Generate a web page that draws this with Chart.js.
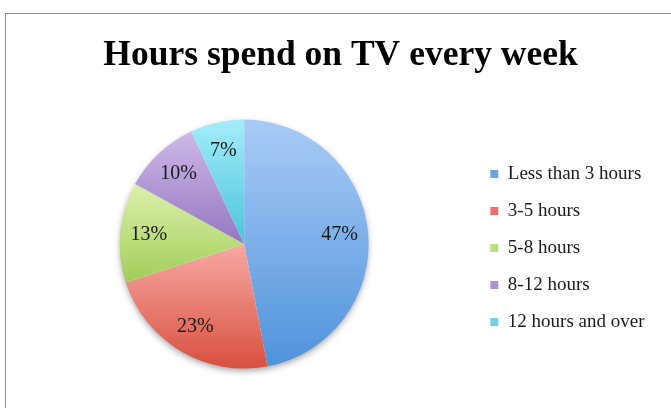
<!DOCTYPE html>
<html>
<head>
<meta charset="utf-8">
<script src="https://cdn.jsdelivr.net/npm/chart.js@4.4.0/dist/chart.umd.min.js"></script>
<style>
  body { margin: 0; background: #fff; }
  #frame {
    position: absolute; left: 5px; top: 13px; width: 700px; height: 420px;
    border-left: 1px solid #8e8e8e; border-top: 1px solid #8e8e8e;
  }
  #tvChart { position: absolute; left: 0; top: 0; }
</style>
</head>
<body>
<div id="frame"></div>
<canvas id="tvChart" width="671" height="408"></canvas>
<script>
const categories = ["Less than 3 hours", "3-5 hours", "5-8 hours", "8-12 hours", "12 hours and over"];
const shares = [47, 23, 13, 10, 7];
// light (top) and dark (bottom) shade of each slice
const topColors = ["#a9cbf7", "#f7a9a5", "#dbf1aa", "#cdbae7", "#a3edf9"];
const bottomColors = ["#4f93da", "#d9503f", "#a2cd5a", "#9576c1", "#4bc3dc"];
const legendColors = ["#6aa5e6", "#e8716a", "#bddd81", "#ad93d2", "#6fd3e8"];

function sliceGradient(context) {
  const chart = context.chart;
  const area = chart.chartArea;
  const i = context.dataIndex;
  if (!area || i === undefined) return topColors[i || 0];
  const cx = (area.left + area.right) / 2;
  const cy = (area.top + area.bottom) / 2;
  const r = Math.min(area.width, area.height) / 2;
  const total = shares.reduce((a, b) => a + b, 0);
  let before = 0;
  for (let k = 0; k < i; k++) before += shares[k];
  const a0 = -Math.PI / 2 + before / total * Math.PI * 2;
  const a1 = a0 + shares[i] / total * Math.PI * 2;
  let ys = [cy, cy + r * Math.sin(a0), cy + r * Math.sin(a1)];
  if (a0 <= -Math.PI / 2 + 1e-6 || a1 >= Math.PI * 1.5 - 1e-6) ys.push(cy - r);
  if (a0 < Math.PI / 2 && a1 > Math.PI / 2) ys.push(cy + r);
  const y0 = Math.min(...ys), y1 = Math.max(...ys);
  const g = chart.ctx.createLinearGradient(0, y0, 0, y1);
  g.addColorStop(0, topColors[i]);
  g.addColorStop(1, bottomColors[i]);
  return g;
}

// empty box right of the legend, so the title centres over a wider span than the pie
// (display:false keeps it out of the legend's max-width share)
const rightGap = {
  id: "rightGap",
  beforeInit(chart) {
    Chart.layouts.addBox(chart, {
      position: "right",
      weight: 2000,
      fullSize: false,
      options: { display: false },
      width: 0,
      height: 0,
      isHorizontal() { return false; },
      update(maxWidth, maxHeight) { this.width = 10.5; this.height = maxHeight; },
      draw() {}
    });
  }
};

// soft shadow under the whole pie
const pieShadow = {
  id: "pieShadow",
  beforeDatasetsDraw(chart) {
    const arc = chart.getDatasetMeta(0).data[0];
    if (!arc) return;
    const ctx = chart.ctx;
    ctx.save();
    ctx.shadowColor = "rgba(0,0,0,0.4)";
    ctx.shadowBlur = 7;
    ctx.shadowOffsetY = 3;
    ctx.fillStyle = "#fff";
    ctx.beginPath();
    ctx.arc(arc.x, arc.y, arc.outerRadius - 1, 0, Math.PI * 2);
    ctx.fill();
    ctx.restore();
  }
};

// percentage labels inside each slice
const sliceLabels = {
  id: "sliceLabels",
  afterDatasetsDraw(chart) {
    const ctx = chart.ctx;
    ctx.save();
    ctx.font = "20px 'Liberation Serif'";
    ctx.fillStyle = "#1a1a1a";
    ctx.textAlign = "center";
    ctx.textBaseline = "middle";
    chart.getDatasetMeta(0).data.forEach((arc, i) => {
      const mid = (arc.startAngle + arc.endAngle) / 2;
      const d = arc.outerRadius * 0.77;
      ctx.fillText(shares[i] + "%", arc.x + Math.cos(mid) * d, arc.y + Math.sin(mid) * d);
    });
    ctx.restore();
  }
};

const ctx = document.getElementById("tvChart").getContext("2d");
const tvChart = new Chart(ctx, {
  type: "pie",
  data: {
    labels: categories,
    datasets: [{
      data: shares,
      backgroundColor: sliceGradient,
      borderWidth: 0
    }]
  },
  options: {
    responsive: false,
    animation: false,
    devicePixelRatio: 1,
    layout: { padding: { left: 16, right: 6, bottom: 39.5 } },
    plugins: {
      title: {
        display: true,
        text: "Hours spend on TV every week",
        color: "#000",
        font: { family: "'Liberation Serif'", size: 35.5, weight: "bold" },
        padding: { top: 35, bottom: 42 }
      },
      legend: {
        position: "right",
        fullSize: false,
        // empty title, only nudges the items down a little
        title: { display: true, text: "", padding: 0, font: { size: 8, lineHeight: 1 } },
        labels: {
          color: "#1a1a1a",
          font: { family: "'Liberation Serif'", size: 19 },
          boxWidth: 8,
          boxHeight: 8,
          padding: 18,
          generateLabels(chart) {
            const items = Chart.overrides.pie.plugins.legend.labels.generateLabels(chart);
            items.forEach((it, i) => {
              it.fillStyle = legendColors[i];
              it.strokeStyle = legendColors[i];
              it.lineWidth = 0;
            });
            return items;
          }
        }
      },
      tooltip: { enabled: false }
    }
  },
  plugins: [rightGap, pieShadow, sliceLabels]
});
</script>
</body>
</html>
